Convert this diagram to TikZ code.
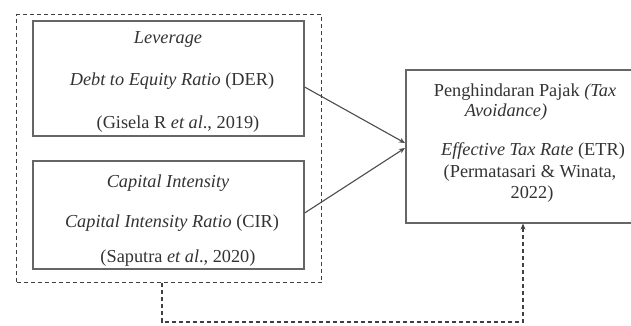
\documentclass[tikz,border=0pt]{standalone}
\usepackage{fontspec}
\setmainfont{Liberation Serif}
\usetikzlibrary{arrows.meta,positioning,calc}
\begin{document}
\begin{tikzpicture}[x=1pt,y=-1pt,
  boxframe/.style={draw=black!60, line width=1.6pt},
  grpframe/.style={draw=black!75, line width=1.1pt, dash pattern=on 4pt off 3pt},
  txt/.style={anchor=base, inner sep=0pt, text=black!80, font=\fontsize{18.3}{22}\selectfont},
  conn/.style={draw=black!70, line width=1.1pt, -{Stealth[length=6pt,width=5pt]}},
  dconn/.style={draw=black!75, line width=1.1pt, dash pattern=on 4pt off 3pt, -{Stealth[length=6pt,width=5pt]}}]
\useasboundingbox (0,0) rectangle (631,325);
\fill[white] (0,0) rectangle (631,325);
\begin{scope}
\clip (0,0) rectangle (631,325);
% group frame
\node[grpframe, inner sep=0pt, minimum width=305pt, minimum height=268pt, anchor=north west] (grp) at (16,14) {};
% box 1
\node[boxframe, inner sep=0pt, minimum width=271pt, minimum height=115pt, anchor=north west] (b1) at (32,20) {};
\node[txt] (b1a) at (168,43) {\itshape Leverage};
\node[txt] (b1b) at (172,85) {\textit{Debt to Equity Ratio} (DER)};
\node[txt] (b1c) at (178,128) {(Gisela R \textit{et al}., 2019)};
% box 2
\node[boxframe, inner sep=0pt, minimum width=271pt, minimum height=108pt, anchor=north west] (b2) at (32,160) {};
\node[txt] (b2a) at (168,187) {\itshape Capital Intensity};
\node[txt] (b2b) at (172,227) {\textit{Capital Intensity Ratio} (CIR)};
\node[txt] (b2c) at (178,262) {(Saputra \textit{et al}., 2020)};
% right box
\node[boxframe, inner sep=0pt, minimum width=270pt, minimum height=153pt, anchor=north west] (y) at (405,69) {};
\node[txt] (ya) at (525,96) {Penghindaran Pajak \textit{(Tax}};
\node[txt] (yb) at (506,116) {\itshape Avoidance)};
\node[txt] (yc) at (533,155) {\textit{Effective Tax Rate} (ETR)};
\node[txt] (yd) at (530,177) {(Permatasari \& Winata,};
\node[txt] (ye) at (532,198) {2022)};
% connectors
\coordinate (s1) at (b1.east |- 0,87);
\coordinate (e1) at (y.west |- 0,143);
\coordinate (s2) at (b2.east |- 0,213);
\coordinate (e2) at (y.west |- 0,148);
\draw[conn] (s1) -- (e1);
\draw[conn] (s2) -- (e2);
\coordinate (d0) at (grp.south -| 162,0);
\coordinate (d1) at (162,322);
\coordinate (d2) at (523,322);
\coordinate (d3) at (y.south -| 523,0);
\draw[dconn] (d0) -- (d1) -- (d2) -- (d3);
\end{scope}
\end{tikzpicture}
\end{document}
